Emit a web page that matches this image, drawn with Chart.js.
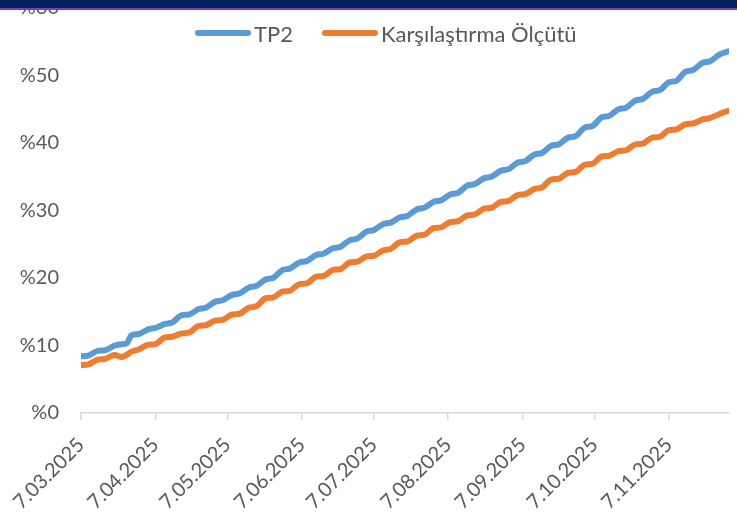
<!DOCTYPE html>
<html>
<head>
<meta charset="utf-8">
<script src="https://cdn.jsdelivr.net/npm/chart.js@4.4.1/dist/chart.umd.min.js"></script>
<style>
    html, body { margin: 0; padding: 0; background: #fff; }
    #wrap { position: relative; width: 737px; height: 512px; overflow: hidden; }
    #chart { position: absolute; left: 0; top: 0; }
    .band { position: absolute; left: 0; width: 737px; }
    #legend {
        position: absolute; left: 195px; top: 19px; height: 28px;
        display: flex; align-items: center;
        font-family: Lato, "Open Sans", sans-serif; font-size: 22px;
        color: #595959; white-space: nowrap;
    }
    #legend .item { display: flex; align-items: center; margin-right: 29px; }
    #legend .swatch { width: 56px; height: 6px; border-radius: 3px; margin-right: 3px; }
</style>
</head>
<body>
<div id="wrap">
    <canvas id="chart" width="737" height="512"></canvas>
    <div class="band" style="top:0;height:8px;background:#002060"></div>
    <div class="band" style="top:8px;height:2px;background:#7E3FAF"></div>
    <div id="legend"></div>
</div>
<script>
// day offsets from 7.03.2025 (mostly Friday / Monday points)
const days = [0, 3, 7, 10, 14, 17, 19, 21, 24, 28, 31, 35, 38, 42, 45, 49, 52, 56, 59, 63, 66,
    70, 73, 77, 80, 84, 87, 91, 94, 98, 101, 105, 108, 112, 115, 119, 122, 126, 129, 133, 136,
    140, 143, 147, 150, 154, 157, 161, 164, 168, 171, 175, 178, 182, 185, 189, 192, 196, 199,
    203, 206, 210, 213, 217, 220, 224, 227, 231, 234, 238, 241, 245, 248, 252, 255, 259, 262,
    266, 269, 270];

const tp2 = [8.4, 8.5, 9.2, 9.3, 10.0, 10.2, 10.3, 11.5, 11.7, 12.4, 12.6, 13.2, 13.4, 14.5, 14.6,
    15.4, 15.6, 16.5, 16.7, 17.5, 17.7, 18.6, 18.8, 19.8, 20.0, 21.2, 21.4, 22.3, 22.5, 23.4, 23.6,
    24.4, 24.6, 25.6, 25.8, 26.9, 27.1, 28.0, 28.2, 29.0, 29.2, 30.2, 30.4, 31.3, 31.5, 32.4, 32.6,
    33.7, 33.9, 34.8, 35.0, 35.9, 36.1, 37.1, 37.3, 38.3, 38.5, 39.6, 39.8, 40.8, 41.0, 42.3, 42.5,
    43.8, 44.0, 45.0, 45.2, 46.3, 46.5, 47.6, 47.8, 49.0, 49.2, 50.6, 50.8, 51.9, 52.1, 53.1, 53.5,
    53.6];

const benchmark = [7.1, 7.2, 7.9, 8.0, 8.6, 8.3, 8.6, 9.1, 9.4, 10.1, 10.2, 11.2, 11.3, 11.8, 11.9,
    12.9, 13.0, 13.7, 13.8, 14.6, 14.7, 15.6, 15.8, 17.0, 17.1, 18.0, 18.1, 19.1, 19.2, 20.2, 20.3,
    21.2, 21.3, 22.3, 22.4, 23.2, 23.3, 24.1, 24.3, 25.3, 25.4, 26.3, 26.4, 27.4, 27.5, 28.3, 28.4,
    29.3, 29.4, 30.3, 30.4, 31.3, 31.4, 32.3, 32.4, 33.2, 33.4, 34.6, 34.7, 35.6, 35.7, 36.8, 36.9,
    38.0, 38.1, 38.8, 38.9, 39.8, 39.9, 40.8, 40.9, 41.9, 42.0, 42.8, 42.9, 43.5, 43.7, 44.3, 44.7,
    44.8];

const tickDays = [0, 31, 61, 92, 122, 153, 184, 214, 245];
const tickLabels = ['7.03.2025', '7.04.2025', '7.05.2025', '7.06.2025', '7.07.2025',
    '7.08.2025', '7.09.2025', '7.10.2025', '7.11.2025'];

const BLUE = '#5B9BD5';
const ORANGE = '#ED7D31';
const TEXT = '#595959';
const FONT = 'Lato, "Open Sans", sans-serif';

const toPoints = values => days.map((d, i) => ({ x: d, y: values[i] }));

const lineSet = (label, color, values) => ({
    label,
    data: toPoints(values),
    borderColor: color,
    backgroundColor: color,
    borderWidth: 6,
    pointRadius: 0,
    borderCapStyle: 'round',
    borderJoinStyle: 'round',
    cubicInterpolationMode: 'monotone'
});

const chart = new Chart(document.getElementById('chart'), {
    type: 'line',
    data: {
        datasets: [
            lineSet('TP2', BLUE, tp2),
            lineSet('Karşılaştırma Ölçütü', ORANGE, benchmark)
        ]
    },
    options: {
        responsive: false,
        animation: false,
        layout: { padding: { left: 0, right: 8, top: 8, bottom: 0 } },
        plugins: {
            tooltip: { enabled: false },
            legend: { display: false }
        },
        scales: {
            x: {
                type: 'linear',
                min: 0,
                max: 270,
                afterBuildTicks: axis => {
                    axis.ticks = tickDays.map(v => ({ value: v }));
                },
                afterFit: axis => {
                    axis.paddingLeft = 0;
                    axis.paddingRight = 0;
                    axis.height = 99;
                },
                ticks: {
                    color: TEXT,
                    font: { family: FONT, size: 20 },
                    maxRotation: 45,
                    minRotation: 45,
                    padding: 13,
                    autoSkip: false,
                    callback: (value) => tickLabels[tickDays.indexOf(value)]
                },
                grid: {
                    drawOnChartArea: false,
                    color: '#D9D9D9',
                    lineWidth: 1.5,
                    tickLength: 7
                },
                border: { color: '#D9D9D9', width: 1.5 }
            },
            y: {
                min: 0,
                max: 60,
                afterFit: axis => {
                    axis.width = 81;
                    axis.paddingTop = 0;
                    axis.paddingBottom = 0;
                },
                ticks: {
                    stepSize: 10,
                    color: TEXT,
                    font: { family: FONT, size: 20 },
                    padding: 14,
                    callback: v => '%' + v
                },
                grid: { display: false },
                border: { display: false }
            }
        }
    }
});

// html legend built from the chart's datasets
const legendEl = document.getElementById('legend');
chart.data.datasets.forEach(ds => {
    const item = document.createElement('div');
    item.className = 'item';
    const sw = document.createElement('span');
    sw.className = 'swatch';
    sw.style.background = ds.borderColor;
    const txt = document.createElement('span');
    txt.textContent = ds.label;
    item.appendChild(sw);
    item.appendChild(txt);
    legendEl.appendChild(item);
});
</script>
</body>
</html>
